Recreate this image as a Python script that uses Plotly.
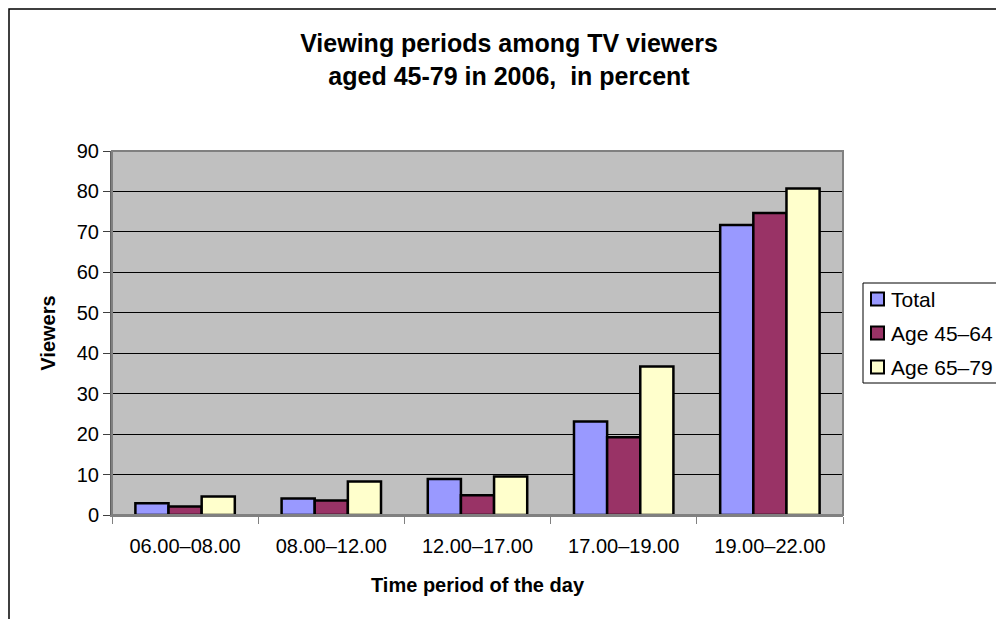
import plotly.graph_objects as go

# Viewing periods (categories) and shares of viewers per age group, in percent
periods = ["06.00–08.00", "08.00–12.00", "12.00–17.00", "17.00–19.00", "19.00–22.00"]
total = [2.9, 4.1, 8.9, 23.1, 71.7]
age_45_64 = [2.1, 3.6, 4.9, 19.2, 74.7]
age_65_79 = [4.6, 8.3, 9.5, 36.7, 80.7]

series_names = ["Total", "Age 45–64", "Age 65–79"]
series_values = [total, age_45_64, age_65_79]
series_colors = ["#9999FF", "#993366", "#FFFFCC"]

FONT = "Liberation Sans, Arial, sans-serif"

fig = go.Figure()
for name, vals, color in zip(series_names, series_values, series_colors):
    fig.add_trace(go.Bar(
        name=name, x=periods, y=vals,
        marker=dict(color=color, line=dict(color="black", width=2.5)),
        showlegend=False,
    ))

W, H = 996, 619
L, R, T, B = 112, 153, 151, 104
pw, ph = W - L - R, H - T - B


def px_x(p):
    return (p - L) / pw


def px_y(p):
    return (H - B - p) / ph


shapes = [
    # plot-area border
    dict(type="rect", xref="paper", yref="paper", x0=0, x1=1, y0=0, y1=1,
         line=dict(color="#808080", width=2), fillcolor="rgba(0,0,0,0)", layer="above"),
    # chart-area frame
    dict(type="rect", xref="paper", yref="paper",
         x0=px_x(9), x1=px_x(1005), y0=px_y(630), y1=px_y(9),
         line=dict(color="black", width=1.5), fillcolor="rgba(0,0,0,0)"),
    # legend box
    dict(type="rect", xref="paper", yref="paper",
         x0=px_x(863), x1=px_x(1010), y0=px_y(383), y1=px_y(283),
         line=dict(color="black", width=1), fillcolor="white"),
]
annotations = []

# legend entries: swatch + label
row_centers = [299, 333, 367]
for name, color, cy in zip(series_names, series_colors, row_centers):
    shapes.append(dict(
        type="rect", xref="paper", yref="paper",
        x0=px_x(871), x1=px_x(884), y0=px_y(cy + 6.5), y1=px_y(cy - 6.5),
        line=dict(color="black", width=2), fillcolor=color,
    ))
    annotations.append(dict(
        text=name, xref="paper", yref="paper",
        x=px_x(889), y=px_y(cy), xanchor="left", yanchor="middle",
        showarrow=False, font=dict(size=21, family=FONT, color="black"),
    ))

fig.update_layout(
    width=W, height=H,
    margin=dict(l=L, r=R, t=T, b=B, pad=0, autoexpand=False),
    paper_bgcolor="white",
    plot_bgcolor="#C0C0C0",
    font=dict(family=FONT, size=20, color="black"),
    barmode="group",
    bargap=0.32,
    bargroupgap=0,
    showlegend=False,
    title=dict(
        text="<b>Viewing periods among TV viewers<br>aged 45-79 in 2006,  in percent</b>",
        font=dict(size=25, family=FONT, color="black"),
        xref="container", yref="container",
        x=509 / W, y=1 - 52 / H,
        xanchor="center", yanchor="middle",
    ),
    xaxis=dict(
        title=dict(text="<b>Time period of the day</b>", font=dict(size=20), standoff=22),
        tickson="boundaries",
        ticks="outside", ticklen=7, tickcolor="#808080", tickwidth=1,
        ticklabelstandoff=12,
        showline=True, linecolor="#808080", linewidth=2,
        showgrid=False,
        tickfont=dict(size=20),
    ),
    yaxis=dict(
        title=dict(text="<b>Viewers</b>", font=dict(size=20), standoff=16),
        range=[0, 90], dtick=10,
        ticks="outside", ticklen=7, tickcolor="#404040", tickwidth=1,
        showline=True, linecolor="#606060", linewidth=2,
        showgrid=True, gridcolor="black", gridwidth=1,
        zeroline=False,
        tickfont=dict(size=20),
    ),
    shapes=shapes,
    annotations=annotations,
)

fig.write_html("out.html")
